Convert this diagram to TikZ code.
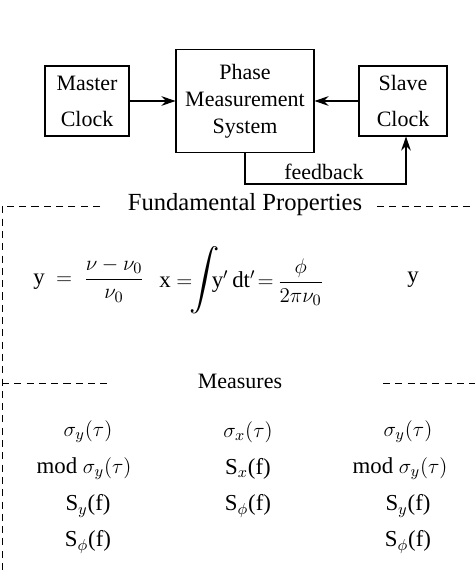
\documentclass[tikz,border=0pt]{standalone}
\usepackage{amsmath}
\usepackage{fontspec}
\setmainfont{Liberation Serif}
\usetikzlibrary{arrows.meta}

\begin{document}
\begin{tikzpicture}[
					x=0.02cm, y=-0.02cm,
					box/.style={draw, semithick, align=center, inner sep=0pt},
					conn/.style={semithick, -{Stealth[length=8pt, width=5.5pt]}},
					sep/.style={thin, dash pattern=on 4pt off 3pt},
					txt/.style={font=\fontsize{12.5}{15.5}\selectfont},
					head/.style={font=\fontsize{14}{16}\selectfont},
					formula/.style={anchor=west, inner sep=0pt, font=\fontsize{13}{15}\selectfont},
					meas/.style={font=\fontsize{13}{15}\selectfont}
				]
				% Marco del dibujo
				\useasboundingbox (0,0) rectangle (475,574);

				% Columnas de las medidas
				\def\ca{88}      % columna izquierda
				\def\cb{248}     % columna central
				\def\cc{408}     % columna derecha

				% --- Bloques ---
				\node[box, txt, minimum width=1.68cm, minimum height=1.4cm] (master) at (87,101) {Master\\[5pt]Clock};
				\node[box, txt, minimum width=2.76cm, minimum height=2.06cm] (pms) at (245,101) {Phase\\Measurement\\System};
				\node[box, txt, minimum width=1.76cm, minimum height=1.4cm] (slave) at (403,101) {Slave\\[5pt]Clock};

				% --- Conexiones ---
				\draw[conn] (master) -- (pms);
				\draw[conn] (slave) -- (pms);
				\coordinate (fbend) at (406,184);
				\draw[conn] (pms.south) |- (fbend) -- (fbend |- slave.south);
				\node[txt] (fblabel) at (324,172) {feedback};

				% --- Propiedades fundamentales ---
				\node[head] (fund) at (245,205) {Fundamental Properties};
				\draw[sep] (100,206) -- (2,206) -- (2,574);
				\draw[sep] (377,206) -- (475,206);

				\node[formula] (yfrac) at (33,280) {y\enspace$=$\enspace$\dfrac{\nu-\nu_0}{\nu_0}$};
				\node[formula] (xint) at (159,280) {x $=\!${\fontsize{19}{19}\selectfont$\displaystyle\int$}\!\!y$'$\,dt$'\!=$\,{\fontsize{13}{15}\selectfont$\dfrac{\;\phi\;}{2\pi\nu_0}$}};
				\node[formula] (yright) at (407,280) {y};

				% --- Medidas ---
				\node[txt] (measures) at (240,381) {Measures};
				\draw[sep] (2,383) -- (110,383);
				\draw[sep] (383,383) -- (475,383);

				\node[meas] (ma1) at (\ca,432) {$\sigma_y(\tau)$};
				\node[meas] (ma2) at (\ca-4,469) {mod $\sigma_y(\tau)$};
				\node[meas] (ma3) at (\ca,506) {S$_y$(f)};
				\node[meas] (ma4) at (\ca,542) {S$_\phi$(f)};

				\node[meas] (mb1) at (\cb,432) {$\sigma_x(\tau)$};
				\node[meas] (mb2) at (\cb,469) {S$_x$(f)};
				\node[meas] (mb3) at (\cb,506) {S$_\phi$(f)};

				\node[meas] (mc1) at (\cc,432) {$\sigma_y(\tau)$};
				\node[meas] (mc2) at (\cc-8,469) {mod $\sigma_y(\tau)$};
				\node[meas] (mc3) at (\cc,506) {S$_y$(f)};
				\node[meas] (mc4) at (\cc,542) {S$_\phi$(f)};

			\end{tikzpicture}
\end{document}
